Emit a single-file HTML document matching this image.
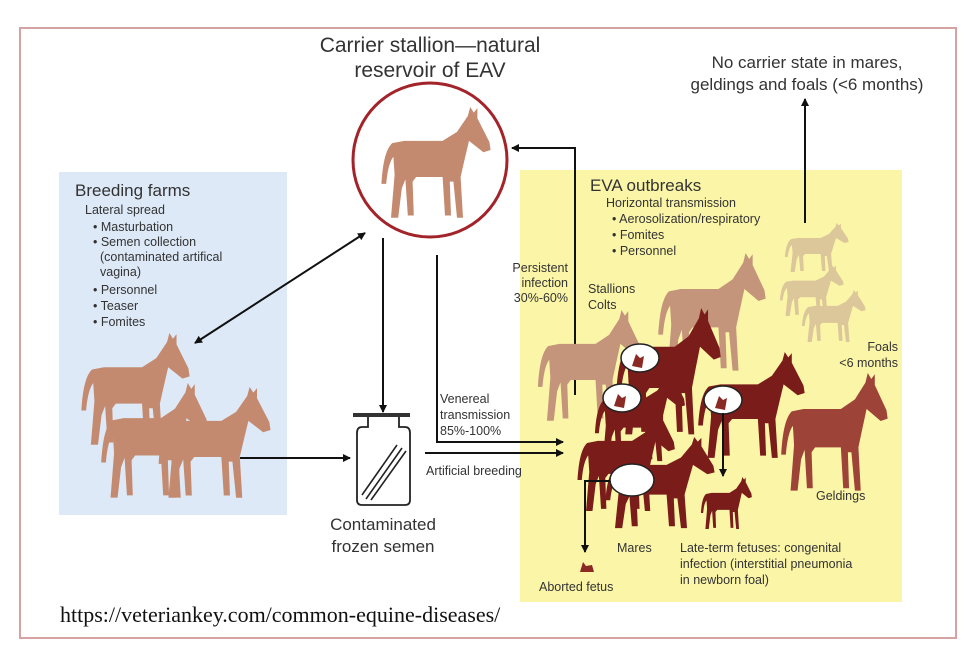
<!DOCTYPE html>
<html><head><meta charset="utf-8"><style>
html,body{margin:0;padding:0;background:#fff;}
svg{display:block;}
text{font-family:"Liberation Sans",sans-serif;fill:#333;}
</style></head><body>
<svg width="972" height="668" viewBox="0 0 972 668" xmlns="http://www.w3.org/2000/svg">
<defs>
<path id="h" d="M16,32 C10,38 8,52 7,68 L11,68 C12,56 14,48 17,44 L18,60 L15,98 L21,98 L24,72 L27,64 L29,96 L34,96 L33,66 L36,62 L58,62 L60,96 L65,96 L64,66 L67,66 L70,98 L75,98 L73,62 L76,48 L80,30 L92,40 L98,38 L97,31 L87,10 L87,1 L84,5 L81,0 L79,8 L70,22 L58,30 L26,30 Z"/>
<marker id="a" markerWidth="8" markerHeight="8" refX="7" refY="4" orient="auto" markerUnits="userSpaceOnUse"><path d="M0,0 L8,4 L0,8 Z" fill="#111"/></marker>
<marker id="b" markerWidth="8" markerHeight="8" refX="1" refY="4" orient="auto" markerUnits="userSpaceOnUse"><path d="M8,0 L0,4 L8,8 Z" fill="#111"/></marker>
</defs>
<rect x="20" y="28" width="936" height="610" fill="none" stroke="#d6a3a3" stroke-width="2"/>
<rect x="59" y="172" width="228" height="343" fill="#dde9f7"/>
<rect x="520" y="170" width="382" height="432" fill="#fbf5a8"/>

<text x="430" y="52" font-size="21" text-anchor="middle">Carrier stallion—natural</text>
<text x="430" y="77" font-size="21" text-anchor="middle">reservoir of EAV</text>
<circle cx="430" cy="160" r="77" fill="#fff" stroke="#a3232a" stroke-width="3"/>
<use href="#h" fill="#c48a70" transform="translate(373,107) scale(1.2,1.13)"/>

<text x="807" y="68" font-size="17" text-anchor="middle">No carrier state in mares,</text>
<text x="807" y="90" font-size="17" text-anchor="middle">geldings and foals (&lt;6 months)</text>
<line x1="805" y1="223" x2="805" y2="99" stroke="#111" stroke-width="2" marker-end="url(#a)"/>

<text x="75" y="196" font-size="17">Breeding farms</text>
<g font-size="12.5">
<text x="85" y="214">Lateral spread</text>
<text x="93" y="231">• Masturbation</text>
<text x="93" y="246">• Semen collection</text>
<text x="100" y="261">(contaminated artifical</text>
<text x="100" y="276">vagina)</text>
<text x="93" y="294">• Personnel</text>
<text x="93" y="310">• Teaser</text>
<text x="93" y="326">• Fomites</text>
</g>
<use href="#h" fill="#c48a70" transform="translate(73,333) scale(1.19,1.14)"/>
<use href="#h" fill="#c48a70" transform="translate(93,383) scale(1.17,1.17)"/>
<use href="#h" fill="#c48a70" transform="translate(150,387) scale(1.23,1.13)"/>
<line x1="365" y1="233" x2="195" y2="343" stroke="#111" stroke-width="2" marker-end="url(#a)" marker-start="url(#b)"/>
<line x1="240" y1="458" x2="350" y2="458" stroke="#111" stroke-width="2" marker-end="url(#a)"/>

<line x1="383" y1="238" x2="383" y2="412" stroke="#111" stroke-width="2" marker-end="url(#a)"/>
<rect x="353" y="413" width="57" height="4" fill="#333"/>
<path d="M368,417 V427 H362 Q357,427 357,433 V500 Q357,505 362,505 H405 Q410,505 410,500 V433 Q410,427 405,427 H399 V417" fill="#fff" stroke="#222" stroke-width="1.8"/>
<g stroke="#222" stroke-width="1.6"><line x1="362" y1="495" x2="397" y2="445"/><line x1="366" y1="499" x2="402" y2="448"/><line x1="371" y1="500" x2="406" y2="451"/></g>
<text x="383" y="530" font-size="17" text-anchor="middle">Contaminated</text>
<text x="383" y="552" font-size="17" text-anchor="middle">frozen semen</text>

<polyline points="437,255 437,442 563,442" fill="none" stroke="#111" stroke-width="2" marker-end="url(#a)"/>
<line x1="425" y1="453" x2="563" y2="453" stroke="#111" stroke-width="2" marker-end="url(#a)"/>
<g font-size="12.5"><text x="440" y="403">Venereal</text><text x="440" y="419">transmission</text><text x="440" y="435">85%-100%</text>
<text x="426" y="475">Artificial breeding</text></g>

<polyline points="575,395 575,148 512,148" fill="none" stroke="#111" stroke-width="2" marker-end="url(#a)"/>
<g font-size="12.5" text-anchor="end"><text x="568" y="272">Persistent</text><text x="568" y="287">infection</text><text x="568" y="302">30%-60%</text></g>

<text x="590" y="191" font-size="17">EVA outbreaks</text>
<g font-size="12.5">
<text x="606" y="207">Horizontal transmission</text>
<text x="612" y="223">• Aerosolization/respiratory</text>
<text x="612" y="239">• Fomites</text>
<text x="612" y="255">• Personnel</text>
<text x="588" y="293">Stallions</text><text x="588" y="309">Colts</text>
<text x="898" y="351" text-anchor="end">Foals</text><text x="898" y="367" text-anchor="end">&lt;6 months</text>
<text x="816" y="500">Geldings</text>
<text x="617" y="552">Mares</text>
<text x="680" y="552">Late-term fetuses: congenital</text>
<text x="680" y="568">infection (interstitial pneumonia</text>
<text x="680" y="584">in newborn foal)</text>
<text x="539" y="591">Aborted fetus</text>
</g>

<use href="#h" fill="#dcc79a" transform="translate(780,223) scale(0.7,0.5)"/>
<use href="#h" fill="#dcc79a" transform="translate(775,265) scale(0.7,0.52)"/>
<use href="#h" fill="#dcc79a" transform="translate(797,290) scale(0.7,0.53)"/>
<use href="#h" fill="#c4957a" transform="translate(650,253) scale(1.18,1.2)"/>
<use href="#h" fill="#c4957a" transform="translate(530,310) scale(1.13,1.13)"/>
<use href="#h" fill="#9e4337" transform="translate(773,373) scale(1.17,1.2)"/>
<use href="#h" fill="#7a1c1a" transform="translate(608,308) scale(1.15,1.29)"/>
<use href="#h" fill="#7a1c1a" transform="translate(690,352) scale(1.17,1.08)"/>
<use href="#h" fill="#7a1c1a" transform="translate(588,370) scale(0.99,0.93)"/>
<use href="#h" fill="#7a1c1a" transform="translate(570,410) scale(1.07,1.03)"/>
<use href="#h" fill="#7a1c1a" transform="translate(597,437) scale(1.2,0.93)"/>
<use href="#h" fill="#7a1c1a" transform="translate(697,477) scale(0.56,0.53)"/>
<g fill="#fff" stroke="#222" stroke-width="1.5">
<ellipse cx="640" cy="358" rx="19" ry="14"/><ellipse cx="622" cy="398" rx="19" ry="14"/>
<ellipse cx="723" cy="400" rx="19" ry="14"/><ellipse cx="632" cy="480" rx="22" ry="16"/>
</g>
<g fill="#8a2a25"><path d="M632,366 l4,-12 l4,4 l4,-2 l-2,12 z"/><path d="M614,406 l4,-12 l4,4 l4,-2 l-2,12 z"/><path d="M715,408 l4,-12 l4,4 l4,-2 l-2,12 z"/></g>
<line x1="723" y1="413" x2="723" y2="476" stroke="#111" stroke-width="2" marker-end="url(#a)"/>
<polyline points="610,481 585,481 585,552" fill="none" stroke="#111" stroke-width="2" marker-end="url(#a)"/>
<path d="M580,572 l3,-10 l3,4 l6,-1 l2,7 z" fill="#8a2a25"/>

<text x="60" y="622" font-size="22" style="font-family:'Liberation Serif',serif;fill:#111">https://veteriankey.com/common-equine-diseases/</text>
</svg>
</body></html>
